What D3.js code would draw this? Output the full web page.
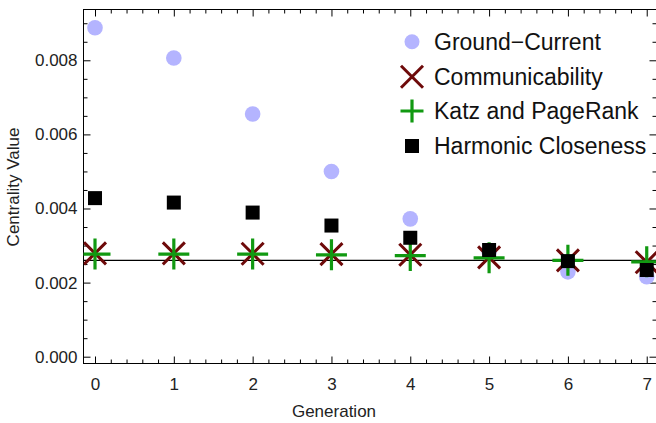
<!DOCTYPE html>
<html><head><meta charset="utf-8">
<script src="https://cdn.jsdelivr.net/npm/d3@7"></script>
<style>
html,body{margin:0;padding:0;background:#fff;}
svg{display:block;font-family:"Liberation Sans",Arial,sans-serif;}
</style></head>
<body><svg id="c" width="656" height="423"></svg>
<script>
const generations = [0, 1, 2, 3, 4, 5, 6, 7];
const groundCurrent = [0.00888, 0.00806, 0.00655, 0.00500, 0.00372, 0.00285, 0.00229, 0.00216];
const communicability = [0.00279, 0.00279, 0.00278, 0.00277, 0.00275, 0.00268, 0.00260, 0.00255];
const katzPageRank = [0.00277, 0.00277, 0.00277, 0.00275, 0.00273, 0.00267, 0.00260, 0.00256];
const harmonicCloseness = [0.00428, 0.00416, 0.00389, 0.00354, 0.00321, 0.00288, 0.00258, 0.00234];
const referenceLine = 0.0026;
const xTicks = [0, 1, 2, 3, 4, 5, 6, 7];
const yTicks = [0, 0.002, 0.004, 0.006, 0.008];
const seriesNames = ["Ground\u2212Current", "Communicability", "Katz and PageRank", "Harmonic Closeness"];

const svg = d3.select("#c");
const L = 83.5, R = 656.5, T = 9.5, B = 363.5;
const x = d3.scaleLinear().domain([-0.146, 7.124]).range([L, R]);
const y = d3.scaleLinear().domain([-0.0001835, 0.009371]).range([B, T]);

const xMinor = d3.range(0, 7.2, 0.2).filter(v => v > x.domain()[0] && v < x.domain()[1] && Math.abs(v - Math.round(v)) > 1e-6);
const yMinor = d3.range(0, 0.0094, 0.0005).filter(v => v < y.domain()[1] && Math.abs(v/0.002 - Math.round(v/0.002)) > 1e-6);

function styleAxis(g){
  g.select(".domain").remove();
  g.selectAll("line").attr("stroke","#000").attr("stroke-width",1);
  g.selectAll("text").attr("fill","#222").style("font-size","17px").style("font-family","'Liberation Sans',Arial,sans-serif");
}
// bottom
svg.append("g").attr("transform",`translate(0,${B})`)
  .call(d3.axisBottom(x).tickValues(xTicks).tickSize(-7).tickPadding(14).tickFormat(d3.format("d"))).call(styleAxis);
svg.append("g").attr("transform",`translate(0,${B})`)
  .call(d3.axisBottom(x).tickValues(xMinor).tickSize(-4).tickFormat("")).call(styleAxis);
// top
svg.append("g").attr("transform",`translate(0,${T})`)
  .call(d3.axisTop(x).tickValues(xTicks).tickSize(-7).tickFormat("")).call(styleAxis);
svg.append("g").attr("transform",`translate(0,${T})`)
  .call(d3.axisTop(x).tickValues(xMinor).tickSize(-4).tickFormat("")).call(styleAxis);
// left
svg.append("g").attr("transform",`translate(${L},0)`)
  .call(d3.axisLeft(y).tickValues(yTicks).tickSize(-7).tickPadding(6).tickFormat(d3.format(".3f"))).call(styleAxis);
svg.append("g").attr("transform",`translate(${L},0)`)
  .call(d3.axisLeft(y).tickValues(yMinor).tickSize(-4).tickFormat("")).call(styleAxis);
// right
svg.append("g").attr("transform",`translate(${R},0)`)
  .call(d3.axisRight(y).tickValues(yTicks).tickSize(-7).tickFormat("")).call(styleAxis);
svg.append("g").attr("transform",`translate(${R},0)`)
  .call(d3.axisRight(y).tickValues(yMinor).tickSize(-4).tickFormat("")).call(styleAxis);

// frame
svg.append("rect").attr("x",L).attr("y",T).attr("width",R-L).attr("height",B-T)
  .attr("fill","none").attr("stroke","#000").attr("stroke-width",1);

// axis labels
svg.append("text").attr("x",334).attr("y",417).attr("text-anchor","middle")
  .style("font-size","17px").attr("fill","#222").text("Generation");
svg.append("text").attr("transform","translate(19,187) rotate(-90)").attr("text-anchor","middle")
  .style("font-size","17px").attr("fill","#222").text("Centrality Value");

svg.append("clipPath").attr("id","clip").append("rect").attr("x",L).attr("y",T).attr("width",R-L).attr("height",B-T);
const plot = svg.append("g").attr("clip-path","url(#clip)");

// reference line
plot.append("line").attr("x1",L).attr("x2",R).attr("y1",y(referenceLine)).attr("y2",y(referenceLine))
  .attr("stroke","#000").attr("stroke-width",1.3);

const gcColor = "#b4b4ff", cmColor = "#6e0a0a", kzColor = "#119911", hcColor = "#000";

function drawCircle(g, cx, cy, r){ g.append("circle").attr("cx",cx).attr("cy",cy).attr("r",r).attr("fill",gcColor); }
function drawX(g, cx, cy, h){
  g.append("path").attr("d",`M${cx-h},${cy-h}L${cx+h},${cy+h}M${cx-h},${cy+h}L${cx+h},${cy-h}`)
   .attr("stroke",cmColor).attr("stroke-width",3).attr("fill","none");
}
function drawPlus(g, cx, cy, h){
  g.append("path").attr("d",`M${cx-h},${cy}L${cx+h},${cy}M${cx},${cy-h}L${cx},${cy+h}`)
   .attr("stroke",kzColor).attr("stroke-width",3.2).attr("fill","none");
}
function drawSquare(g, cx, cy, s){ g.append("rect").attr("x",cx-s/2).attr("y",cy-s/2).attr("width",s).attr("height",s).attr("fill",hcColor); }

generations.forEach((gen,i)=>drawCircle(plot, x(gen), y(groundCurrent[i]), 7.8));
generations.forEach((gen,i)=>drawX(plot, x(gen), y(communicability[i]), 11));
generations.forEach((gen,i)=>drawPlus(plot, x(gen), y(katzPageRank[i]), 15.5));
generations.forEach((gen,i)=>drawSquare(plot, x(gen), y(harmonicCloseness[i]), 14));

// legend
const lg = svg.append("g");
const rowY = [41.7, 76.7, 111, 146];
const mx = 412, tx = 434;
drawCircle(lg, mx, rowY[0], 7.5);
drawX(lg, mx, rowY[1], 11);
drawPlus(lg, mx, rowY[2], 11.5);
drawSquare(lg, mx, rowY[3], 14);
seriesNames.forEach((n,i)=>{
  lg.append("text").attr("x",tx).attr("y",rowY[i]+8).style("font-size","23px").attr("fill","#111").text(n);
});
</script></body></html>
